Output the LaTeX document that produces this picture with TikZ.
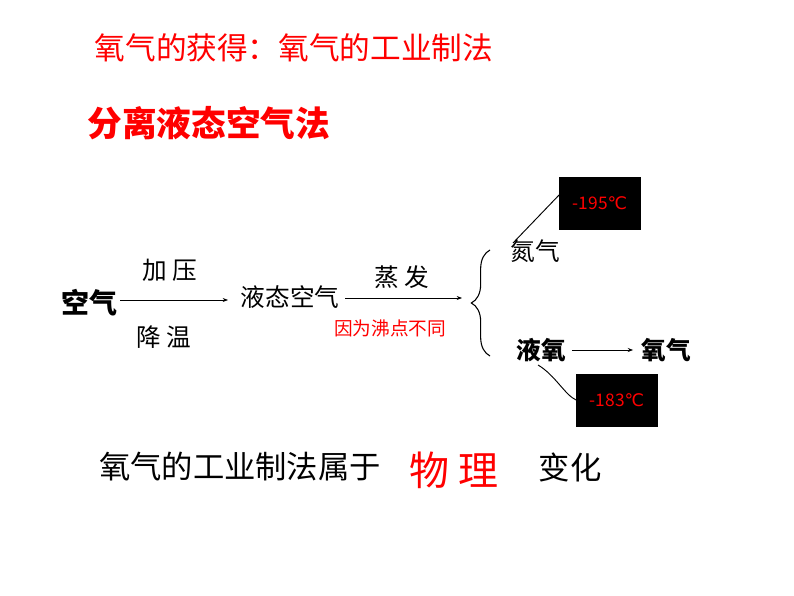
\documentclass[tikz,border=0pt]{standalone}
\usepackage{fontspec}
\setmainfont{Noto Sans CJK SC}
\newfontfamily\cjk{Noto Sans CJK SC}
\newfontfamily\djv{DejaVu Sans}
\usetikzlibrary{arrows.meta,decorations.pathreplacing}
\begin{document}
\begin{tikzpicture}[x=0.75pt,y=-0.75pt,
  txt/.style={inner sep=0pt,anchor=center},
  mid/.style={font=\fontsize{18.5}{20}\selectfont},
  box/.style={fill=black,draw=black,minimum width=61pt,minimum height=39pt,inner sep=0pt,text=red,font=\fontsize{13}{14}\selectfont},
  arr/.style={-{Stealth[length=4pt,width=3pt]},line width=0.5pt}]
\useasboundingbox (0,0) rectangle (794,596);
\node[txt,text=red,font=\fontsize{23}{26}\selectfont] (t1) at (294,48) {氧气的获得：氧气的工业制法};
\node[txt,text=red,font=\fontsize{26}{28}\bfseries\selectfont] (t2) at (209,123) {分离液态空气法};
\node[txt,font=\fontsize{21}{23}\bfseries\selectfont] (air) at (89,303) {空气};
\node[txt,mid] (jy) at (170,270) {加\ 压};
\node[txt,mid] (jw) at (164,337) {降\ 温};
\node[txt,mid] (liq) at (290,297) {液态空气};
\node[txt,mid] (zf) at (402,277) {蒸\ 发};
\node[txt,text=red,font=\fontsize{14}{16}\selectfont] (yw) at (390,328) {因为沸点不同};
\coordinate (a1) at (120,300); \coordinate (a2) at (228,300);
\draw[arr] (a1) -- (a2);
\coordinate (b1) at (345,298); \coordinate (b2) at (462,298);
\draw[arr] (b1) -- (b2);
\coordinate (c1) at (490,250); \coordinate (c2) at (490,356);
\draw[line width=0.8pt,decorate,decoration={brace,amplitude=14pt,mirror}] (c1) -- (c2);
\node[txt,mid] (n2) at (535,251) {氮气};
\node[box] (bx1) at (600,203) {-195{\djv ℃}};
\draw[line width=0.7pt] (bx1.west) ++(0,-8) coordinate (l1) (l1) -- (513,243) coordinate (l2);
\node[txt,mid,font=\fontsize{18.5}{20}\bfseries\selectfont] (yy) at (541,350) {液氧};
\node[txt,mid,font=\fontsize{18.5}{20}\bfseries\selectfont] (o2) at (666,350) {氧气};
\draw[arr] (yy.east)++(6,0) -- ([xshift=-6pt]o2.west);
\node[box] (bx2) at (617,400) {-183{\djv ℃}};
\draw[line width=0.7pt] (538,365) .. controls (555,375) and (565,395) .. (bx2.west);
\node[txt,font=\fontsize{23.5}{26}\selectfont] (s1) at (240,467) {氧气的工业制法属于};
\node[txt,text=red,font=\fontsize{30}{32}\selectfont] (wl) at (454,470) {物\ 理};
\node[txt,font=\fontsize{23.5}{26}\selectfont] (bh) at (570,467) {变化};
\end{tikzpicture}
\end{document}
